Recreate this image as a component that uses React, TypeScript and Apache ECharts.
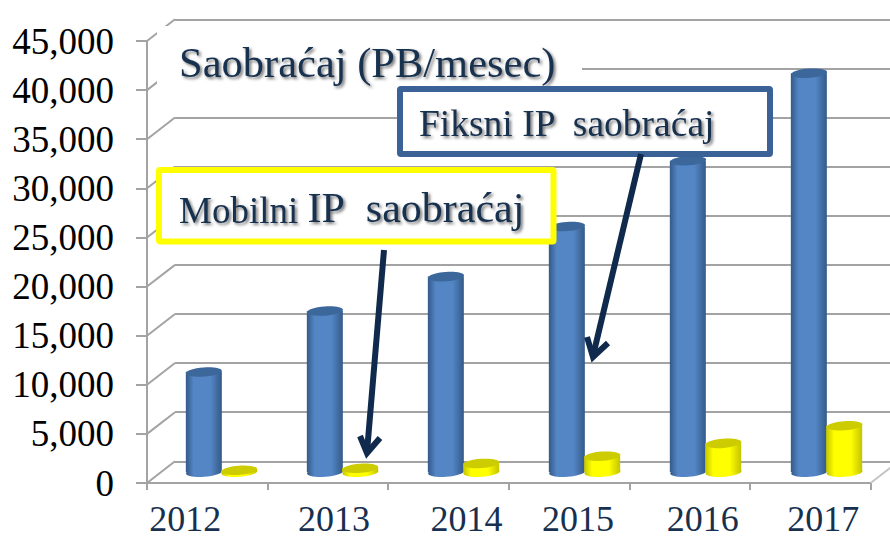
import React, { useEffect, useRef } from "react";
import * as echarts from "echarts";

const years = ["2012", "2013", "2014", "2015", "2016", "2017"];
const fixedTraffic = [10200, 16400, 19900, 25000, 31700, 40600];
const mobileTraffic = [200, 400, 890, 1630, 2930, 4720];
const tickValues = [0, 5000, 10000, 15000, 20000, 25000, 30000, 35000, 40000, 45000];
const yearLabelShift = [-22, 6, 18, 9, 13, 13];

const SERIF = '"Liberation Serif", "Times New Roman", serif';
const NAVY = "#17304F";
const GRID_COLOR = "#A3A3A3";
const PLOT_LEFT = 147;
const PLOT_WIDTH = 723.6;
const PLOT_TOP = 41;
const PLOT_HEIGHT = 442;
const DEPTH_X = 28;
const DEPTH_Y = 21.7;
const CYL_WIDTH = 36;
const CYL_RY = 4.6;
const TILT = 0.07;

function cylinder(side: number, edge: string, centre: string, cap: string) {
  return (_params: any, api: any) => {
    const [cx0, yTop] = api.coord([api.value(0), api.value(1)]);
    const [, yBase] = api.coord([api.value(0), 0]);
    const bandwidth = api.size([1, 0])[0];
    const cx = cx0 + side * bandwidth * 0.146;
    const body = new echarts.graphic.LinearGradient(0, 0, 1, 0, [
      { offset: 0, color: edge },
      { offset: 0.22, color: centre },
      { offset: 0.68, color: centre },
      { offset: 1, color: edge },
    ]);
    const ell = (cy: number, fill: any) => ({
      type: "ellipse",
      shape: { cx, cy, rx: CYL_WIDTH / 2, ry: CYL_RY },
      originX: cx,
      originY: cy,
      rotation: TILT,
      style: { fill },
    });
    return {
      type: "group",
      children: [
        ell(yBase, body),
        {
          type: "rect",
          shape: { x: cx - CYL_WIDTH / 2, y: yTop, width: CYL_WIDTH, height: Math.max(yBase - yTop, 0) },
          style: { fill: body },
        },
        ell(yTop, cap),
      ],
    };
  };
}

const depthLine = (_p: any, api: any) => {
  const x = PLOT_LEFT;
  const y = api.coord([0, api.value(0)])[1];
  return {
    type: "line",
    shape: { x1: x, y1: y, x2: x + DEPTH_X, y2: y - DEPTH_Y },
    style: { stroke: GRID_COLOR, lineWidth: 2 },
  };
};

const floorEdge = (_p: any, api: any) => {
  const x = PLOT_LEFT + PLOT_WIDTH;
  const y = api.coord([0, api.value(0)])[1];
  return {
    type: "line",
    shape: { x1: x, y1: y, x2: x + DEPTH_X, y2: y - DEPTH_Y },
    style: { stroke: "#C4C4C4", lineWidth: 2 },
  };
};

const shadow = { textShadowColor: "rgba(60,60,60,0.7)", textShadowBlur: 3, textShadowOffsetX: 2, textShadowOffsetY: 2 };

function arrow(x1: number, y1: number, x2: number, y2: number, w1: number[], w2: number[]) {
  const style = { stroke: "#0F2A4C", lineWidth: 6, fill: "none" };
  return [
    { type: "line", z: 30, shape: { x1, y1, x2, y2: y2 - 6 }, style },
    {
      type: "polyline",
      z: 30,
      shape: { points: [w1, [x2, y2 - 5], w2] },
      style: { ...style, lineWidth: 6, lineJoin: "miter" },
    },
  ];
}

export default function App() {
  const ref = useRef<HTMLDivElement>(null);
  useEffect(() => {
    const chart = echarts.init(ref.current!, undefined, { renderer: "svg" });
    const grid = (dx: number, dy: number, width: number) => ({
      left: PLOT_LEFT + dx,
      top: PLOT_TOP - dy,
      width,
      height: PLOT_HEIGHT,
      containLabel: false,
      outerBoundsMode: "none",
    });
    const hiddenX = (gridIndex: number) => ({ type: "category" as const, gridIndex, data: years, show: false });
    const hiddenY = (gridIndex: number, showLines: boolean) => ({
      type: "value" as const,
      gridIndex,
      min: 0,
      max: 45000,
      interval: 5000,
      axisLine: { show: false },
      axisTick: { show: false },
      axisLabel: { show: false },
      splitLine: { show: showLines, lineStyle: { color: GRID_COLOR, width: 2 } },
    });
    chart.setOption({
      animation: false,
      backgroundColor: "#fff",
      grid: [grid(0, 0, PLOT_WIDTH), grid(DEPTH_X, DEPTH_Y, PLOT_WIDTH), grid(DEPTH_X / 2, 11, 726)],
      xAxis: [
        {
          type: "category",
          gridIndex: 0,
          data: years.map((y, i) => ({
            value: y,
            textStyle: {
              padding: yearLabelShift[i] >= 0 ? [0, 0, 0, 2 * yearLabelShift[i]] : [0, -2 * yearLabelShift[i], 0, 0],
            },
          })),
          axisLine: { lineStyle: { color: GRID_COLOR, width: 2 } },
          axisTick: { show: true, length: 7, lineStyle: { color: GRID_COLOR, width: 2 }, alignWithLabel: false },
          axisLabel: {
            interval: 0,
            color: NAVY,
            fontFamily: SERIF,
            fontSize: 36,
            lineHeight: 30,
            margin: 21,
            hideOverlap: false,
          },
        },
        hiddenX(1),
        hiddenX(2),
      ],
      yAxis: [
        {
          type: "value",
          gridIndex: 0,
          min: 0,
          max: 45000,
          interval: 5000,
          axisLine: { show: true, lineStyle: { color: GRID_COLOR, width: 2 } },
          axisTick: { show: true, length: 11, lineStyle: { color: GRID_COLOR, width: 2 } },
          axisLabel: {
            color: "#000",
            fontFamily: SERIF,
            fontSize: 37,
            margin: 33,
            padding: [4, 0, 0, 0],
            formatter: (v: number) => v.toLocaleString("en-US"),
          },
          splitLine: { show: false },
        },
        hiddenY(1, true),
        hiddenY(2, false),
      ],
      series: [
        {
          type: "custom",
          name: "depth",
          coordinateSystem: "cartesian2d",
          xAxisIndex: 0,
          yAxisIndex: 0,
          silent: true,
          clip: false,
          renderItem: depthLine,
          encode: { y: 0 },
          data: tickValues.map((v) => [v]),
          z: 1,
        },
        {
          type: "custom",
          name: "floor",
          coordinateSystem: "cartesian2d",
          xAxisIndex: 0,
          yAxisIndex: 0,
          silent: true,
          clip: false,
          renderItem: floorEdge,
          encode: { y: 0 },
          data: [[0]],
          z: 1,
        },
        {
          type: "custom",
          name: "Fiksni IP saobraćaj",
          coordinateSystem: "cartesian2d",
          xAxisIndex: 2,
          yAxisIndex: 2,
          clip: false,
          renderItem: cylinder(-1, "#345A88", "#5486C6", "#3C679A"),
          encode: { x: 0, y: 1 },
          data: fixedTraffic.map((v, i) => [i, v]),
          z: 3,
        },
        {
          type: "custom",
          name: "Mobilni IP saobraćaj",
          coordinateSystem: "cartesian2d",
          xAxisIndex: 2,
          yAxisIndex: 2,
          clip: false,
          renderItem: cylinder(1, "#C4C400", "#FFFF00", "#CCCC00"),
          encode: { x: 0, y: 1 },
          data: mobileTraffic.map((v, i) => [i, v]),
          z: 4,
        },
      ],
      graphic: [
        { type: "rect", z: 10, shape: { x: 157, y: 26, width: 425, height: 80 }, style: { fill: "#fff" } },
        {
          type: "text",
          z: 11,
          x: 179,
          y: 62,
          style: {
            text: "Saobraćaj (PB/mesec)",
            font: `42.5px ${SERIF}`,
            fill: NAVY,
            textVerticalAlign: "middle",
            ...shadow,
          },
        },
        {
          type: "rect",
          z: 12,
          shape: { x: 400, y: 89, width: 370, height: 65, r: 1 },
          style: { fill: "#fff", stroke: "#3A6297", lineWidth: 6 },
        },
        {
          type: "text",
          z: 13,
          x: 419,
          y: 123,
          style: {
            text: "Fiksni IP  saobraćaj",
            font: `37.5px ${SERIF}`,
            fill: NAVY,
            textVerticalAlign: "middle",
            ...shadow,
          },
        },
        {
          type: "rect",
          z: 14,
          shape: { x: 159, y: 170, width: 394.5, height: 71.5, r: 1 },
          style: { fill: "#fff", stroke: "#FFFF00", lineWidth: 6 },
        },
        {
          type: "text",
          z: 15,
          x: 179,
          y: 208,
          style: {
            text: "{a|Mobilni }{b|IP}{c|  saobraćaj}",
            rich: {
              a: { font: `37px ${SERIF}`, fill: NAVY, verticalAlign: "bottom", ...shadow },
              b: { font: `42px ${SERIF}`, fill: NAVY, verticalAlign: "bottom", ...shadow },
              c: { font: `42px ${SERIF}`, fill: NAVY, verticalAlign: "bottom", ...shadow },
            },
            textVerticalAlign: "middle",
          },
        },
        ...arrow(384, 250, 367, 458, [360, 436], [380, 438]),
        ...arrow(641, 154, 593, 362, [587, 337], [608, 343]),
      ],
    });
    return () => chart.dispose();
  }, []);
  return <div ref={ref} style={{ position: "absolute", left: 0, top: 0, width: 890, height: 539 }} />;
}
